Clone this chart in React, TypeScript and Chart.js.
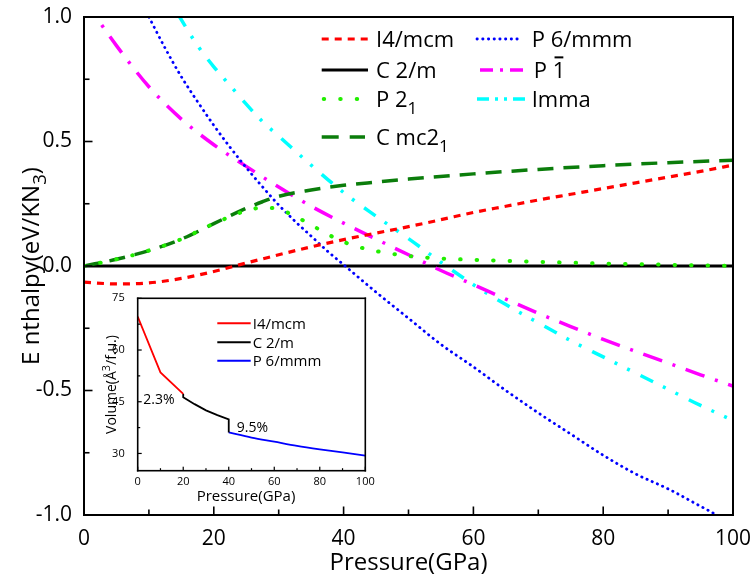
import React, { useEffect, useRef } from "react";
import { Chart, registerables } from "chart.js";
Chart.register(...registerables);

const FONT = "'Open Sans', 'DejaVu Sans', sans-serif";

// ---------- main chart data (Pressure in GPa, Enthalpy in eV/KN3) ----------
const P_I4MCM = [0, 5, 10, 15, 20, 25, 30, 35, 40, 45, 50, 55, 60, 65, 70, 75, 80, 85, 90, 95, 100];
const H_I4MCM = [-0.065, -0.072, -0.068, -0.05, -0.022, 0.012, 0.045, 0.077, 0.106, 0.132, 0.158, 0.186, 0.215, 0.24, 0.265, 0.288, 0.311, 0.334, 0.357, 0.38, 0.405];

const P_C2M = [0, 100];
const H_C2M = [0, 0];

const P_P21 = [0, 5, 10, 15, 20, 25, 27.5, 30, 32.5, 35, 37.5, 40, 42.5, 45, 50, 55, 60, 70, 80, 90, 100];
const H_P21 = [0, 0.027, 0.062, 0.108, 0.17, 0.222, 0.234, 0.228, 0.2, 0.165, 0.128, 0.097, 0.075, 0.06, 0.04, 0.03, 0.025, 0.017, 0.01, 0.005, 0.0];

const P_CMC21 = [0, 5, 10, 15, 20, 25, 27.5, 30, 35, 40, 45, 50, 60, 70, 80, 90, 100];
const H_CMC21 = [0, 0.027, 0.062, 0.108, 0.17, 0.232, 0.258, 0.28, 0.305, 0.324, 0.337, 0.349, 0.37, 0.388, 0.403, 0.415, 0.425];

const P_P6MMM = [10, 12.5, 15, 17.5, 20, 22.5, 25, 27.5, 30, 32.5, 35, 37.5, 40, 45, 50, 55, 60, 65, 70, 75, 80, 85, 90, 95, 100];
const H_P6MMM = [1.0, 0.875, 0.76, 0.66, 0.565, 0.477, 0.395, 0.318, 0.245, 0.18, 0.12, 0.06, 0.005, -0.105, -0.21, -0.315, -0.405, -0.5, -0.59, -0.675, -0.76, -0.835, -0.895, -0.965, -1.035];

const P_P1 = [0, 5, 10, 15, 20, 25, 30, 35, 40, 45, 50, 55, 60, 65, 70, 75, 80, 85, 90, 95, 100];
const H_P1 = [1.07, 0.885, 0.72, 0.59, 0.487, 0.4, 0.317, 0.24, 0.172, 0.108, 0.045, -0.018, -0.075, -0.133, -0.19, -0.243, -0.295, -0.343, -0.39, -0.437, -0.482];

const P_IMMA = [14.5, 17.5, 20, 22.5, 25, 27.5, 30, 35, 40, 45, 50, 55, 60, 65, 70, 75, 80, 85, 90, 95, 100];
const H_IMMA = [1.01, 0.885, 0.8, 0.725, 0.65, 0.58, 0.522, 0.405, 0.295, 0.2, 0.11, 0.015, -0.075, -0.155, -0.228, -0.3, -0.365, -0.43, -0.495, -0.56, -0.62];

// ticks
const MAIN_X_MAJOR = [0, 20, 40, 60, 80, 100];
const MAIN_X_MINOR = [10, 30, 50, 70, 90];
const MAIN_Y_MAJOR = [-1, -0.5, 0, 0.5, 1];
const MAIN_Y_MINOR = [-0.75, -0.25, 0.25, 0.75];

// ---------- inset data (Pressure in GPa, Volume in Å^3/f.u.) ----------
const VP_I4MCM = [0, 10, 20];
const V_I4MCM = [69.7, 53.5, 47.3];
const VP_C2M = [20, 20, 25, 30, 35, 40, 40];
const V_C2M = [47.3, 46.3, 44.3, 42.5, 41.1, 39.9, 36.1];
const VP_P6MMM = [40, 50, 60, 70, 80, 90, 100];
const V_P6MMM = [36.1, 34.6, 33.4, 32.2, 31.2, 30.3, 29.4];

const INSET_X_MAJOR = [0, 20, 40, 60, 80, 100];
const INSET_X_MINOR = [10, 30, 50, 70, 90];
const INSET_Y_MAJOR = [30, 45, 60, 75];
const INSET_Y_MINOR = [37.5, 52.5, 67.5];

const pts = (xs: number[], ys: number[]) => xs.map((x, i) => ({ x, y: ys[i] }));

type Part = { t: string; sub?: boolean; sup?: boolean; over?: boolean };

function partFont(size: number, p: Part) {
  const s = p.sub || p.sup ? size * 0.78 : size;
  return `${s}px ${FONT}`;
}
function richWidth(ctx: CanvasRenderingContext2D, parts: Part[], size: number) {
  let w = 0;
  for (const p of parts) {
    ctx.font = partFont(size, p);
    w += ctx.measureText(p.t).width;
  }
  return w;
}
function drawRich(ctx: CanvasRenderingContext2D, x: number, yMid: number, parts: Part[], size: number) {
  const base = yMid + 0.36 * size;
  ctx.textBaseline = "alphabetic";
  ctx.textAlign = "left";
  ctx.fillStyle = "#000";
  let cx = x;
  for (const p of parts) {
    ctx.font = partFont(size, p);
    let y = base;
    if (p.sub) y = base + 0.3 * size;
    if (p.sup) y = base - 0.42 * size;
    ctx.fillText(p.t, cx, y);
    const w = ctx.measureText(p.t).width;
    if (p.over) {
      const oy = base - 0.714 * size - 0.22 * size;
      ctx.fillRect(cx + w * 0.15, oy - 1, w * 0.7, 2);
    }
    cx += w;
  }
}

function sample(ctx: CanvasRenderingContext2D, x1: number, x2: number, y: number, color: string, width: number, dash: number[], cap: CanvasLineCap) {
  ctx.save();
  ctx.strokeStyle = color;
  ctx.lineWidth = width;
  ctx.setLineDash(dash);
  ctx.lineCap = cap;
  ctx.beginPath();
  ctx.moveTo(x1, y);
  ctx.lineTo(x2, y);
  ctx.stroke();
  ctx.restore();
}

// frame and inward ticks, positioned through the chart's own scales
function frameAndTicks(ctx: CanvasRenderingContext2D, xs: any, ys: any, lw: number, tw: number,
  xMaj: number[], xMin: number[], yMaj: number[], yMin: number[], lMaj: number, lMin: number) {
  const L = xs.getPixelForValue(0 + xs.min), R = xs.getPixelForValue(0 + xs.max);
  const T = ys.getPixelForValue(0 + ys.max), B = ys.getPixelForValue(0 + ys.min);
  ctx.save();
  ctx.globalAlpha = 1;
  ctx.globalCompositeOperation = "source-over";
  ctx.fillStyle = "#000000";
  for (const v of xMaj) { const p = xs.getPixelForValue(v); ctx.fillRect(p - tw / 2, B - lMaj, tw, lMaj); }
  for (const v of xMin) { const p = xs.getPixelForValue(v); ctx.fillRect(p - tw / 2, B - lMin, tw, lMin); }
  for (const v of yMaj) { const p = ys.getPixelForValue(v); ctx.fillRect(L, p - tw / 2, lMaj, tw); }
  for (const v of yMin) { const p = ys.getPixelForValue(v); ctx.fillRect(L, p - tw / 2, lMin, tw); }
  const h = lw / 2;
  ctx.fillRect(L - h, T - h, R - L + lw, lw);
  ctx.fillRect(L - h, B - h, R - L + lw, lw);
  ctx.fillRect(L - h, T - h, lw, B - T + lw);
  ctx.fillRect(R - h, T - h, lw, B - T + lw);
  ctx.restore();
  return { L, R, T, B };
}

const STYLES = {
  i4: { color: "#ff0000", width: 3.2, dash: [7, 6], cap: "butt" as CanvasLineCap },
  c2: { color: "#000000", width: 3, dash: [] as number[], cap: "butt" as CanvasLineCap },
  p21: { color: "#22ee00", width: 4, dash: [0.5, 16], cap: "round" as CanvasLineCap },
  cmc: { color: "#0b7d0b", width: 3.5, dash: [16, 10], cap: "butt" as CanvasLineCap },
  p6: { color: "#0000ff", width: 2.8, dash: [0.3, 5.4], cap: "round" as CanvasLineCap },
  p1: { color: "#ff00ff", width: 3.5, dash: [20, 11, 3, 11], cap: "butt" as CanvasLineCap },
  imma: { color: "#00ffff", width: 3.5, dash: [14, 11, 3, 11, 3, 12], cap: "butt" as CanvasLineCap },
};

function ds(label: string, xs: number[], ys: number[], st: any) {
  return {
    label,
    data: pts(xs, ys),
    borderColor: st.color,
    borderWidth: st.width,
    borderDash: st.dash,
    borderCapStyle: st.cap,
    pointRadius: 0,
    cubicInterpolationMode: "monotone",
  };
}

const noPad = (s: any) => { s.paddingLeft = 0; s.paddingRight = 0; s.paddingTop = 0; s.paddingBottom = 0; };

export default function App() {
  const mainRef = useRef<HTMLCanvasElement>(null);
  const insetRef = useRef<HTMLCanvasElement>(null);
  const overRef = useRef<HTMLCanvasElement>(null);

  useEffect(() => {
    document.body.style.margin = "0";
    Chart.defaults.font.family = FONT;
    Chart.defaults.color = "#000";

    const mainDecor = {
      id: "mainDecor",
      afterDraw(chart: any) {
        const { ctx, scales } = chart;
        const xs = scales.x, ys = scales.y;
        const L = xs.getPixelForValue(0), R = xs.getPixelForValue(100);
        const T = ys.getPixelForValue(1), B = ys.getPixelForValue(-1);
        ctx.save();
        const xt: Part[] = [{ t: "Pressure(GPa)" }];
        const xw = richWidth(ctx, xt, 24);
        drawRich(ctx, (L + R) / 2 - xw / 2, 561, xt, 24);
        const yt: Part[] = [{ t: "E nthalpy(eV/KN" }, { t: "3", sub: true }, { t: ")" }];
        const yw = richWidth(ctx, yt, 24);
        ctx.save();
        ctx.translate(30, (T + B) / 2);
        ctx.rotate(-Math.PI / 2);
        drawRich(ctx, -yw / 2, 0, yt, 24);
        ctx.restore();

        // legend
        const F = 22;
        const c1s = 321.7, c1e = 368, c1t = 376;
        const c2s = 478, c2e = 525, c2t = 531.7;
        sample(ctx, c1s, c1e, 39, STYLES.i4.color, 3.2, STYLES.i4.dash, "butt");
        drawRich(ctx, c1t, 39, [{ t: "I4/mcm" }], F);
        sample(ctx, c1s, c1e, 70, STYLES.c2.color, 3, [], "butt");
        drawRich(ctx, c1t, 70, [{ t: "C 2/m" }], F);
        sample(ctx, c1s + 2, c1e - 6, 99, STYLES.p21.color, 4, STYLES.p21.dash, "round");
        drawRich(ctx, c1t, 99, [{ t: "P 2" }, { t: "1", sub: true }], F);
        sample(ctx, c1s, c1e - 3, 137, STYLES.cmc.color, 3.5, [17, 11], "butt");
        drawRich(ctx, c1t, 137, [{ t: "C mc2" }, { t: "1", sub: true }], F);

        sample(ctx, c2s - 1, c2e - 3, 39, STYLES.p6.color, 2.8, STYLES.p6.dash, "round");
        drawRich(ctx, c2t, 39, [{ t: "P 6/mmm" }], F);
        sample(ctx, c2s + 2, c2e + 2, 70, STYLES.p1.color, 3.5, [13, 7, 3, 7], "butt");
        drawRich(ctx, c2t + 2, 70, [{ t: "P " }, { t: "1", over: true }], F);
        sample(ctx, c2s - 1, c2e, 99, STYLES.imma.color, 3.5, [12, 6, 3, 6, 3, 6], "butt");
        drawRich(ctx, c2t, 99, [{ t: "Imma" }], F);
        ctx.restore();
      },
    };

    const insetDecor = {
      id: "insetDecor",
      afterDraw(chart: any) {
        const { ctx, scales } = chart;
        const f = frameAndTicks(ctx, scales.x, scales.y, 1.6, 1.2, INSET_X_MAJOR, INSET_X_MINOR, INSET_Y_MAJOR, INSET_Y_MINOR, 4, 2.5);
        ctx.save();
        const xt: Part[] = [{ t: "Pressure(GPa)" }];
        const xw = richWidth(ctx, xt, 15);
        drawRich(ctx, 156 - xw / 2, 208, xt, 15);
        const yt: Part[] = [{ t: "Volume(Å" }, { t: "3", sup: true }, { t: "/f.u.)" }];
        const yw = richWidth(ctx, yt, 14);
        ctx.save();
        ctx.translate(21, (f.T + f.B) / 2);
        ctx.rotate(-Math.PI / 2);
        drawRich(ctx, -yw / 2, 0, yt, 14);
        ctx.restore();

        drawRich(ctx, 53.3, 111, [{ t: "2.3%" }], 14);
        drawRich(ctx, 146.7, 139.3, [{ t: "9.5%" }], 14);

        sample(ctx, 127.3, 160.7, 35.3, "#ff0000", 2, [], "butt");
        drawRich(ctx, 162.7, 35.3, [{ t: "I4/mcm" }], 15);
        sample(ctx, 127.3, 160.7, 54.3, "#000000", 2, [], "butt");
        drawRich(ctx, 162.7, 54.3, [{ t: "C 2/m" }], 15);
        sample(ctx, 127.3, 160.7, 72.7, "#0000ff", 2, [], "butt");
        drawRich(ctx, 162.7, 72.7, [{ t: "P 6/mmm" }], 15);
        ctx.restore();
      },
    };

    const main = new Chart(mainRef.current!, {
      type: "line",
      data: {
        datasets: [
          ds("I4/mcm", P_I4MCM, H_I4MCM, STYLES.i4),
          ds("P2_1", P_P21, H_P21, STYLES.p21),
          ds("Cmc2_1", P_CMC21, H_CMC21, STYLES.cmc),
          ds("P6/mmm", P_P6MMM, H_P6MMM, STYLES.p6),
          ds("P-1", P_P1, H_P1, STYLES.p1),
          ds("Imma", P_IMMA, H_IMMA, STYLES.imma),
          ds("C2/m", P_C2M, H_C2M, STYLES.c2),
        ],
      },
      options: {
        responsive: false,
        animation: false,
        events: [],
        layout: { autoPadding: false, padding: { left: 0, top: 17, right: 17, bottom: 0 } },
        plugins: { legend: { display: false }, tooltip: { enabled: false } },
        scales: {
          x: {
            type: "linear",
            min: 0,
            max: 100,
            grid: { display: false },
            border: { display: false },
            afterFit: (s: any) => { s.height = 61; noPad(s); },
            ticks: { stepSize: 20, padding: 3, font: { size: 21 } },
          },
          y: {
            type: "linear",
            min: -1,
            max: 1,
            grid: { display: false },
            border: { display: false },
            afterFit: (s: any) => { s.width = 84; noPad(s); },
            ticks: { stepSize: 0.5, padding: 4, font: { size: 21 }, callback: (v: any) => Number(v).toFixed(1) },
          },
        },
      },
      plugins: [mainDecor],
    } as any);

    // frame and inward ticks of the main plot, on a transparent layer, from the main chart's scales
    const oc = overRef.current!.getContext("2d")!;
    oc.clearRect(0, 0, 750, 576);
    frameAndTicks(oc, main.scales.x, main.scales.y, 2, 1.6, MAIN_X_MAJOR, MAIN_X_MINOR, MAIN_Y_MAJOR, MAIN_Y_MINOR, 8.5, 5.5);

    const inset = new Chart(insetRef.current!, {
      type: "line",
      data: {
        datasets: [
          { label: "I4/mcm", data: pts(VP_I4MCM, V_I4MCM), borderColor: "#ff0000", borderWidth: 1.8, pointRadius: 0, tension: 0 },
          { label: "C2/m", data: pts(VP_C2M, V_C2M), borderColor: "#000000", borderWidth: 1.8, pointRadius: 0, tension: 0 },
          { label: "P6/mmm", data: pts(VP_P6MMM, V_P6MMM), borderColor: "#0000ff", borderWidth: 1.8, pointRadius: 0, cubicInterpolationMode: "monotone" },
        ],
      },
      options: {
        responsive: false,
        animation: false,
        events: [],
        layout: { autoPadding: false, padding: { left: 0, top: 10.3, right: 9.7, bottom: 0 } },
        plugins: { legend: { display: false }, tooltip: { enabled: false } },
        scales: {
          x: {
            type: "linear",
            min: 0,
            max: 100,
            grid: { display: false },
            border: { display: false },
            afterFit: (s: any) => { s.height = 39.3; noPad(s); },
            ticks: { stepSize: 20, padding: -3, font: { size: 11 } },
          },
          y: {
            type: "linear",
            min: 25,
            max: 75,
            grid: { display: false },
            border: { display: false },
            afterFit: (s: any) => { s.width = 47.7; noPad(s); },
            afterBuildTicks: (s: any) => { s.ticks = INSET_Y_MAJOR.map((v) => ({ value: v })); },
            ticks: { padding: 5, font: { size: 11 }, callback: (v: any) => String(v) },
          },
        },
      },
      plugins: [insetDecor],
    } as any);

    return () => {
      main.destroy();
      inset.destroy();
      oc.clearRect(0, 0, 750, 576);
    };
  }, []);

  return (
    <div style={{ position: "relative", width: 750, height: 576, background: "#fff" }}>
      <canvas ref={mainRef} width={750} height={576} style={{ position: "absolute", left: 0, top: 0 }} />
      <canvas ref={overRef} width={750} height={576} style={{ position: "absolute", left: 0, top: 0, pointerEvents: "none" }} />
      <canvas ref={insetRef} width={285} height={222} style={{ position: "absolute", left: 90, top: 288 }} />
    </div>
  );
}
